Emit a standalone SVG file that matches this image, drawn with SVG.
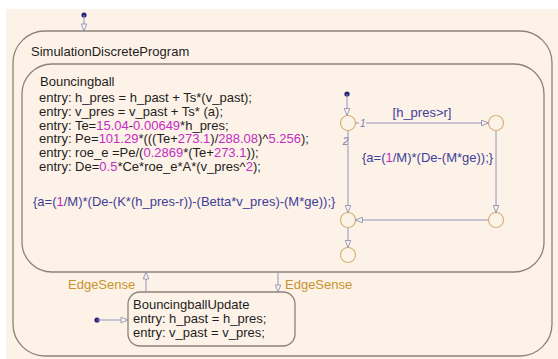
<svg xmlns="http://www.w3.org/2000/svg" width="558" height="359" viewBox="0 0 558 359">
  <style>
    .state { fill: none; stroke: #8c8379; stroke-width: 1.3; }
    .lbl { font-family: "Liberation Sans", Arial, sans-serif; font-size: 13px; fill: #1e1e1e; }
    .num { fill: #c42cc4; }
    .act { fill: #3f3f98; }
    .edge { font-family: "Liberation Sans", Arial, sans-serif; font-size: 13px; fill: #c8922e; }
    .ord { font-family: "Liberation Sans", Arial, sans-serif; font-size: 10px; font-style: italic; fill: #7a7aa8; }
    .tr { fill: none; stroke: #9494bc; stroke-width: 1; }
    .junc { fill: #fdf2e7; stroke: #d6b478; stroke-width: 1.2; }
    .dot { fill: #23237a; }
  </style>
  <defs>
    <marker id="arrow" viewBox="0 0 10 10" refX="10" refY="5" markerUnits="userSpaceOnUse" markerWidth="9" markerHeight="7" orient="auto">
      <path d="M0,1 L10,5 L0,9 Z" fill="#fdf2e7" stroke="#8a8ab8" stroke-width="1.2"/>
    </marker>
  </defs>

  <!-- canvas -->
  <rect x="0" y="0" width="558" height="359" fill="#ffffff"/>
  <rect x="6" y="9" width="552" height="350" fill="#fdf2e7"/>

  <!-- outer chart state -->
  <g id="SimulationDiscreteProgram">
    <rect class="state" x="13" y="31" width="539" height="325" rx="32" ry="32"/>
    <text class="lbl" x="31" y="56">SimulationDiscreteProgram</text>
  </g>

  <!-- Bouncingball state -->
  <g id="Bouncingball">
    <rect class="state" x="22" y="64" width="522" height="208" rx="30" ry="30"/>
    <text class="lbl" x="40" y="86">Bouncingball</text>
    <text class="lbl" x="39" y="102">entry: h_pres = h_past + Ts*(v_past);</text>
    <text class="lbl" x="39" y="115.8">entry: v_pres = v_past + Ts* (a);</text>
    <text class="lbl" x="39" y="129.6">entry: Te=<tspan class="num">15.04</tspan>-<tspan class="num">0.00649</tspan>*h_pres;</text>
    <text class="lbl" x="39" y="143.4">entry: Pe=<tspan class="num">101.29</tspan>*(((Te+<tspan class="num">273.1</tspan>)/<tspan class="num">288.08</tspan>)^<tspan class="num">5.256</tspan>);</text>
    <text class="lbl" x="39" y="157.2">entry: roe_e =Pe/(<tspan class="num">0.2869</tspan>*(Te+<tspan class="num">273.1</tspan>));</text>
    <text class="lbl" x="39" y="171">entry: De=<tspan class="num">0.5</tspan>*Ce*roe_e*A*(v_pres^<tspan class="num">2</tspan>);</text>
    <text class="lbl act" x="33" y="206">{a=(<tspan class="num">1</tspan>/M)*(De-(K*(h_pres-r))-(Betta*v_pres)-(M*ge));}</text>
  </g>

  <!-- BouncingballUpdate state -->
  <g id="BouncingballUpdate">
    <rect class="state" x="128" y="292" width="167" height="54" rx="12" ry="12"/>
    <text class="lbl" x="133" y="309">BouncingballUpdate</text>
    <text class="lbl" x="133" y="323">entry: h_past = h_pres;</text>
    <text class="lbl" x="133" y="337">entry: v_past = v_pres;</text>
  </g>

  <!-- junctions -->
  <g id="junction1"><circle class="junc" cx="348" cy="123" r="7.5"/></g>
  <g id="junction2"><circle class="junc" cx="496" cy="123" r="7.5"/></g>
  <g id="junction3"><circle class="junc" cx="496" cy="220" r="7.5"/></g>
  <g id="junction4"><circle class="junc" cx="348" cy="220" r="7.5"/></g>
  <g id="junction5"><circle class="junc" cx="348" cy="255" r="7.5"/></g>

  <!-- transitions -->
  <g id="connectors">
    <!-- default transitions -->
    <circle class="dot" cx="84" cy="15" r="2.6"/>
    <line class="tr" x1="84" y1="15" x2="84" y2="31" marker-end="url(#arrow)"/>
    <circle class="dot" cx="347" cy="94" r="2.6"/>
    <line class="tr" x1="347" y1="94" x2="347" y2="115.5" marker-end="url(#arrow)"/>
    <circle class="dot" cx="97" cy="320" r="2.6"/>
    <line class="tr" x1="97" y1="320" x2="128" y2="320" marker-end="url(#arrow)"/>

    <!-- junction flow -->
    <line class="tr" x1="355.5" y1="123" x2="359" y2="123"/>
    <text class="ord" x="360" y="127">1</text>
    <line class="tr" x1="366" y1="123" x2="488.5" y2="123" marker-end="url(#arrow)"/>
    <text class="lbl act" x="422" y="117" text-anchor="middle">[h_pres&gt;r]</text>
    <text class="lbl act" x="362" y="162">{a=(<tspan class="num">1</tspan>/M)*(De-(M*ge));}</text>

    <line class="tr" x1="348" y1="130.5" x2="348" y2="212.5" marker-end="url(#arrow)"/>
    <text class="ord" x="345.5" y="145" text-anchor="middle">2</text>
    <line class="tr" x1="496" y1="130.5" x2="496" y2="212.5" marker-end="url(#arrow)"/>
    <line class="tr" x1="488.5" y1="220" x2="355.5" y2="220" marker-end="url(#arrow)"/>
    <line class="tr" x1="348" y1="227.5" x2="348" y2="247.5" marker-end="url(#arrow)"/>

    <!-- event transitions between the two states -->
    <line class="tr" x1="146" y1="292" x2="146" y2="272" marker-end="url(#arrow)"/>
    <text class="edge" x="68" y="289">EdgeSense</text>
    <line class="tr" x1="278" y1="272" x2="278" y2="292" marker-end="url(#arrow)"/>
    <text class="edge" x="285" y="289">EdgeSense</text>
  </g>
</svg>
